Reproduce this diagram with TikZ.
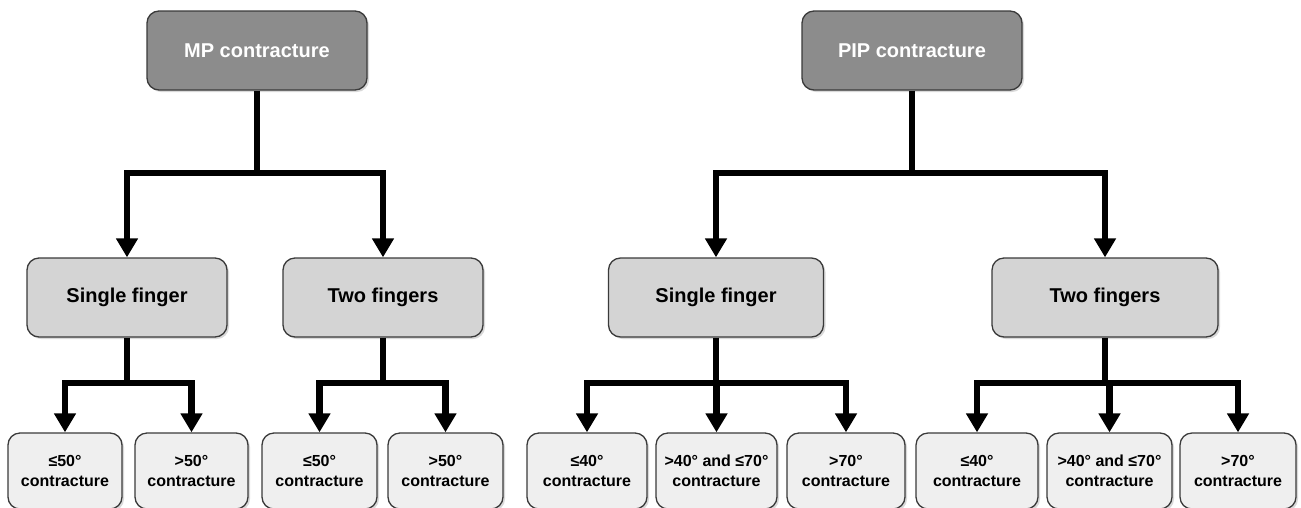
\documentclass[tikz,border=0pt]{standalone}
\usepackage{fontspec}
\setmainfont{Liberation Sans}
\usetikzlibrary{arrows.meta,shadows}
\definecolor{topfill}{HTML}{8C8C8C}
\definecolor{midfill}{HTML}{D4D4D4}
\definecolor{leaffill}{HTML}{EFEFEF}
\definecolor{boxline}{HTML}{3A3A3A}
\begin{document}
\begin{tikzpicture}[x=1pt,y=-1pt,
  box/.style={draw=boxline, line width=1.3pt, rounded corners=12pt,
    drop shadow={opacity=0.3, shadow xshift=2pt, shadow yshift=-2pt},
    font=\bfseries\fontsize{20}{24}\selectfont, align=center, inner sep=0pt},
  topbox/.style={box, fill=topfill, text=white, minimum height=79pt},
  midbox/.style={box, fill=midfill, minimum height=79pt},
  leafbox/.style={box, fill=leaffill, minimum height=76pt,
    font=\bfseries\fontsize{16}{20}\selectfont},
  conn/.style={line width=6.5pt, line join=miter},
  arr/.style={conn, -{Triangle[width=21pt,length=19pt]}}]
\useasboundingbox (0,0) rectangle (1301,507);
\clip (0,0) rectangle (1301,507);
% top
\node[topbox, minimum width=220pt] (mp) at (257,50.5) {MP contracture};
\node[topbox, minimum width=220pt] (pip) at (912,50.5) {PIP contracture};
% middle
\node[midbox, minimum width=200pt] (sf1) at (127,297.5) {Single finger};
\node[midbox, minimum width=200pt] (tf1) at (383,297.5) {Two fingers};
\node[midbox, minimum width=215pt] (sf2) at (716,297.5) {Single finger};
\node[midbox, minimum width=226pt] (tf2) at (1105,297.5) {Two fingers};
% leaves
\node[leafbox, minimum width=114pt] (l1) at (65,471) {≤50°\\contracture};
\node[leafbox, minimum width=113pt] (l2) at (191.5,471) {>50°\\contracture};
\node[leafbox, minimum width=115pt] (l3) at (319.5,471) {≤50°\\contracture};
\node[leafbox, minimum width=115pt] (l4) at (445.5,471) {>50°\\contracture};
\node[leafbox, minimum width=120pt] (l5) at (587,471) {≤40°\\contracture};
\node[leafbox, minimum width=121pt] (l6) at (716.5,471) {>40° and ≤70°\\contracture};
\node[leafbox, minimum width=118pt] (l7) at (846,471) {>70°\\contracture};
\node[leafbox, minimum width=122pt] (l8) at (977,471) {≤40°\\contracture};
\node[leafbox, minimum width=125pt] (l9) at (1109.5,471) {>40° and ≤70°\\contracture};
\node[leafbox, minimum width=116pt] (l10) at (1238,471) {>70°\\contracture};
% junctions
\coordinate (j1) at (mp.south |- 0,173);
\coordinate (j2) at (sf1.south |- 0,383);
\coordinate (j3) at (tf1.south |- 0,383);
\coordinate (j4) at (pip.south |- 0,173);
\coordinate (j5) at (sf2.south |- 0,383);
\coordinate (j6) at (tf2.south |- 0,383);
% connectors
\draw[conn] (mp.south) -- (j1);
\draw[arr] (j1) -| (sf1.north);
\draw[arr] (j1) -| (tf1.north);
\draw[conn] (pip.south) -- (j4);
\draw[arr] (j4) -| (sf2.north);
\draw[arr] (j4) -| (tf2.north);
\draw[conn] (sf1.south) -- (j2);
\draw[arr] (j2) -| (l1.north);
\draw[arr] (j2) -| (l2.north);
\draw[conn] (tf1.south) -- (j3);
\draw[arr] (j3) -| (l3.north);
\draw[arr] (j3) -| (l4.north);
\draw[conn] (sf2.south) -- (j5);
\draw[arr] (j5) -| (l5.north);
\draw[arr] (j5) -| (l6.north);
\draw[arr] (j5) -| (l7.north);
\draw[conn] (tf2.south) -- (j6);
\draw[arr] (j6) -| (l8.north);
\draw[arr] (j6) -| (l9.north);
\draw[arr] (j6) -| (l10.north);
\end{tikzpicture}
\end{document}
